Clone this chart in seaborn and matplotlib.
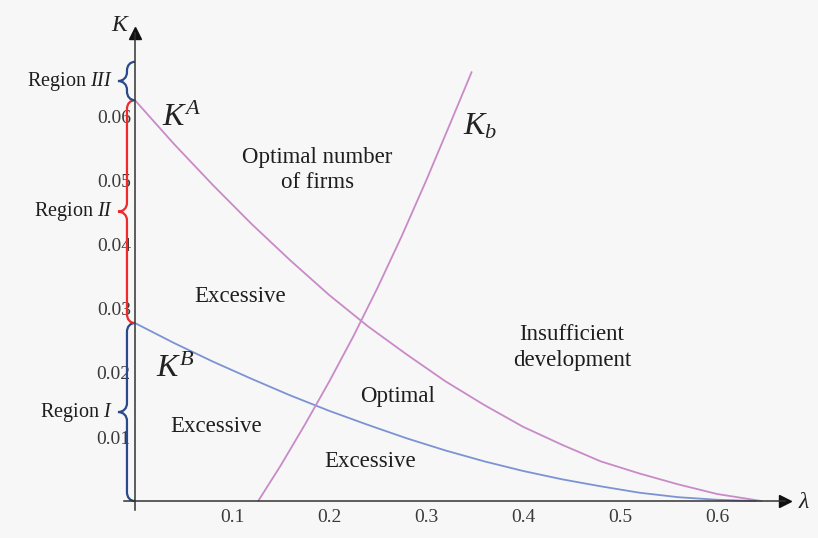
import matplotlib
matplotlib.use("Agg")
import matplotlib.pyplot as plt
import seaborn as sns
import numpy as np
from matplotlib.path import Path
from matplotlib.patches import PathPatch
from matplotlib.ticker import FixedLocator, FixedFormatter

# curve values (lambda, K)
ka_lam = [0.000, 0.040, 0.080, 0.120, 0.160, 0.200, 0.240, 0.280, 0.320, 0.360, 0.400, 0.440, 0.480, 0.520, 0.560, 0.600, 0.646]
ka_val = [0.0626, 0.0558, 0.0494, 0.0433, 0.0376, 0.0322, 0.0273, 0.0229, 0.0187, 0.0150, 0.0116, 0.0088, 0.0062, 0.0043, 0.0026, 0.0011, 0.0000]

kb_lam = [0.000, 0.040, 0.080, 0.120, 0.160, 0.200, 0.240, 0.280, 0.320, 0.360, 0.400, 0.440, 0.480, 0.520, 0.560, 0.600, 0.640]
kb_val = [0.0278, 0.0247, 0.0218, 0.0191, 0.0165, 0.0141, 0.0119, 0.0098, 0.0079, 0.0062, 0.0047, 0.0034, 0.0023, 0.0013, 0.0006, 0.0002, 0.0000]

ksmall_lam = [0.127, 0.150, 0.175, 0.200, 0.225, 0.250, 0.275, 0.300, 0.325, 0.347]
ksmall_val = [0.0000, 0.0055, 0.0119, 0.0186, 0.0257, 0.0333, 0.0414, 0.0500, 0.0590, 0.0670]

region_names = ["Region $\\mathit{I}$", "Region $\\mathit{II}$", "Region $\\mathit{III}$"]
region_top = 0.0686
region_colors = ["#2b4a8c", "#ee2a2a", "#2b4a8c"]

x_ticks = [0.1, 0.2, 0.3, 0.4, 0.5, 0.6]
x_labels = ["0.1", "0.2", "0.3", "0.4", "0.5", "0.6"]
y_ticks = [0.01, 0.02, 0.03, 0.04, 0.05, 0.06]
y_labels = ["0.01", "0.02", "0.03", "0.04", "0.05", "0.06"]

# area labels: text, lambda, K
area_text = ["Optimal number\nof firms", "Excessive", "Excessive", "Optimal", "Excessive", "Insufficient\ndevelopment"]
area_lam = [0.188, 0.108, 0.0835, 0.271, 0.242, 0.4505]
area_val = [0.0517, 0.0319, 0.0116, 0.01625, 0.0061, 0.0240]

sns.set_theme(style="white")
plt.rcParams["font.family"] = ["Liberation Serif", "DejaVu Serif"]
plt.rcParams["mathtext.fontset"] = "custom"
plt.rcParams["mathtext.rm"] = "Liberation Serif"
plt.rcParams["mathtext.it"] = "Liberation Serif:italic"

bg = "#f7f7f7"
fig = plt.figure(figsize=(8.18, 5.38), dpi=100, facecolor=bg)
xlim = (-0.011, 0.670)
ylim = (-0.0014, 0.0731)
ax_left_px, ax_right_px = 124.3, 785.0
ax_bot_px, ax_top_px = 510.0, 33.0
ax = fig.add_axes([ax_left_px / 818, (538 - ax_bot_px) / 538,
                   (ax_right_px - ax_left_px) / 818, (ax_bot_px - ax_top_px) / 538])
ax.set_facecolor(bg)

pink = "#c98ac8"
blue = "#7b93d3"
sns.lineplot(x=ka_lam, y=ka_val, ax=ax, color=pink, lw=1.3, sort=False, estimator=None)
sns.lineplot(x=kb_lam, y=kb_val, ax=ax, color=blue, lw=1.3, sort=False, estimator=None)
sns.lineplot(x=ksmall_lam, y=ksmall_val, ax=ax, color=pink, lw=1.3, sort=False, estimator=None)

ax.set_xlim(*xlim)
ax.set_ylim(*ylim)

# Mathematica style axes through origin
for s in ["top", "right"]:
    ax.spines[s].set_visible(False)
for s in ["left", "bottom"]:
    ax.spines[s].set_position(("data", 0))
    ax.spines[s].set_color("#333333")
    ax.spines[s].set_linewidth(1.1)
ax.plot(xlim[1], 0, ">", color="#111111", ms=8, clip_on=False)
ax.plot(0, ylim[1], "^", color="#111111", ms=8, clip_on=False)

ax.xaxis.set_major_locator(FixedLocator(x_ticks))
ax.xaxis.set_major_formatter(FixedFormatter(x_labels))
ax.yaxis.set_major_locator(FixedLocator(y_ticks))
ax.yaxis.set_major_formatter(FixedFormatter(y_labels))
ax.xaxis.set_minor_locator(FixedLocator(np.arange(0.02, 0.661, 0.02)))
ax.yaxis.set_minor_locator(FixedLocator(np.arange(0.002, 0.0721, 0.002)))
ax.tick_params(which="both", direction="in", color="#333333", width=1.0,
               labelsize=14, labelcolor="#3a3a3a")
ax.tick_params(which="major", length=7)
ax.tick_params(which="minor", length=4)
ax.tick_params(axis="x", pad=6)
ax.tick_params(axis="y", pad=3)
ax.set_xlabel("")
ax.set_ylabel("")

ax.text(xlim[1] + 0.02, -0.0002, "$\\lambda$", fontsize=17, ha="center", va="center", color="#222222")
ax.text(-0.015, ylim[1] + 0.0012, "$K$", fontsize=17, ha="center", va="center", color="#222222")

# curve names
ax.text(0.0485, 0.0598, "$K^{A}$", fontsize=23, ha="center", va="center", color="#222222")
ax.text(0.042, 0.0205, "$K^{B}$", fontsize=23, ha="center", va="center", color="#222222")
ax.text(0.356, 0.0585, "$K_{b}$", fontsize=23, ha="center", va="center", color="#222222")

for txt, lx, ly in zip(area_text, area_lam, area_val):
    ax.text(lx, ly, txt, fontsize=16.5, ha="center", va="center", color="#1e1e1e",
            linespacing=1.3)

# region braces on the K axis
px_x = (xlim[1] - xlim[0]) / (ax_right_px - ax_left_px)
px_y = (ylim[1] - ylim[0]) / (ax_bot_px - ax_top_px)
bounds = [0.0, kb_val[0], ka_val[0], region_top]


def brace(y0, y1, color):
    w = 8 * px_x
    tip = 17 * px_x
    r = min(9 * px_y, (y1 - y0) / 4)
    ym = (y0 + y1) / 2
    verts = [(0, y0),
             (-w * 0.6, y0), (-w, y0 + r * 0.4), (-w, y0 + r),
             (-w, ym - r),
             (-w, ym - r * 0.4), (-w - (tip - w) * 0.4, ym), (-tip, ym),
             (-w - (tip - w) * 0.4, ym), (-w, ym + r * 0.4), (-w, ym + r),
             (-w, y1 - r),
             (-w, y1 - r * 0.4), (-w * 0.6, y1), (0, y1)]
    codes = [Path.MOVETO,
             Path.CURVE4, Path.CURVE4, Path.CURVE4,
             Path.LINETO,
             Path.CURVE4, Path.CURVE4, Path.CURVE4,
             Path.CURVE4, Path.CURVE4, Path.CURVE4,
             Path.LINETO,
             Path.CURVE4, Path.CURVE4, Path.CURVE4]
    ax.add_patch(PathPatch(Path(verts, codes), facecolor="none", edgecolor=color,
                           lw=1.6, clip_on=False))
    return -tip, ym


for i, name in enumerate(region_names):
    tx, ty = brace(bounds[i], bounds[i + 1], region_colors[i])
    ax.text(tx - 5 * px_x, ty, name, fontsize=14.5, ha="right", va="center", color="#1e1e1e")

fig.savefig("out.png", dpi=100, facecolor=bg)
